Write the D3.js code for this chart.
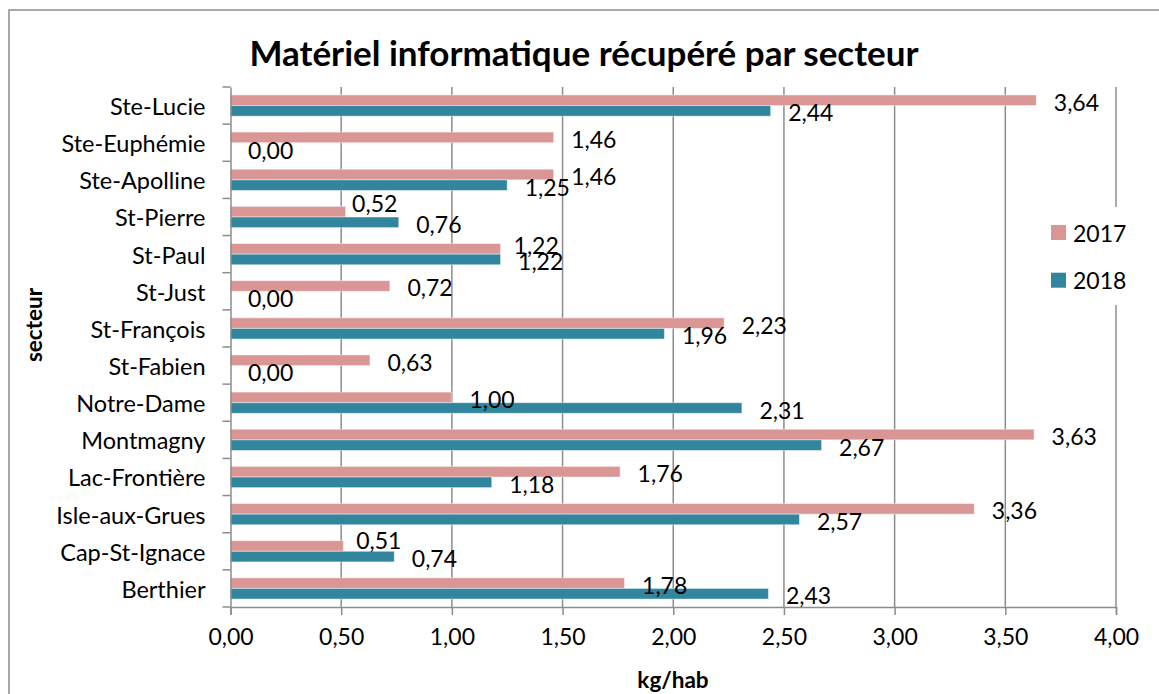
<!DOCTYPE html>
<html><head><meta charset="utf-8">
<script src="https://cdn.jsdelivr.net/npm/d3@7"></script>
<style>
html,body{margin:0;padding:0;background:#fff;}
svg{display:block;font-family:Lato,"Noto Sans",sans-serif;}
</style></head>
<body><svg id="c" width="1159" height="694"></svg>
<script>
const categories = ["Ste-Lucie","Ste-Euphémie","Ste-Apolline","St-Pierre","St-Paul","St-Just","St-François","St-Fabien","Notre-Dame","Montmagny","Lac-Frontière","Isle-aux-Grues","Cap-St-Ignace","Berthier"];
const series = ["2017","2018"];
const values2017 = [3.64,1.46,1.46,0.52,1.22,0.72,2.23,0.63,1.00,3.63,1.76,3.36,0.51,1.78];
const values2018 = [2.44,0.00,1.25,0.76,1.22,0.00,1.96,0.00,2.31,2.67,1.18,2.57,0.74,2.43];
const xTicks = [0,0.5,1,1.5,2,2.5,3,3.5,4];
const title = "Matériel informatique récupéré par secteur";
const xTitle = "kg/hab";
const yTitle = "secteur";

const colors = {"2017":"#D99694","2018":"#31859C"};
const svg = d3.select("#c");
const L = 230.5, R = 1116, T = 87, B = 607;
const fmt = v => v.toFixed(2).replace(".", ",");

// manually placed labels in the original (label offsets, drawing only)
const labelNudge = {"St-Pierre|2017":[-11,-10.3], "St-Paul|2017":[-4.5,-5.8], "Cap-St-Ignace|2017":[-4.7,-7.5]};

svg.append("rect").attr("x",9).attr("y",10).attr("width",1200).attr("height",720)
  .attr("fill","#fff").attr("stroke","#8c8c8c").attr("stroke-width",1.5);

const x = d3.scaleLinear().domain([0,4]).range([L,R]);
const y = d3.scaleBand().domain(categories).range([T,B]).paddingInner(1.5/3.5).paddingOuter(0.75/3.5);
const yb = d3.scaleBand().domain(categories).range([T,B]);
const ys = d3.scaleBand().domain(series).range([0,y.bandwidth()]);

svg.append("g").selectAll("line").data(xTicks.slice(1)).join("line")
  .attr("x1",d=>x(d)).attr("x2",d=>x(d)).attr("y1",T).attr("y2",B)
  .attr("stroke","#8c8c8c").attr("stroke-width",1.5);

const data = [];
categories.forEach((c,i)=>{
  data.push({c, s:"2017", v:values2017[i]});
  data.push({c, s:"2018", v:values2018[i]});
});
svg.append("g").selectAll("rect").data(data).join("rect")
  .attr("x",x(0)).attr("y",d=>y(d.c)+ys(d.s))
  .attr("width",d=>x(d.v)-x(0)).attr("height",ys.bandwidth())
  .attr("fill",d=>colors[d.s]).attr("stroke","#fff").attr("stroke-opacity",0.45).attr("stroke-width",1);

const yAxis = d3.axisLeft(yb).tickSize(0).tickPadding(25);
const gy = svg.append("g").attr("transform",`translate(${L},0)`).call(yAxis);
gy.select(".domain").attr("stroke","#8c8c8c").attr("stroke-width",1.5);
gy.selectAll("text").attr("font-size",23.5).attr("fill","#000").attr("font-family","Lato").attr("dy","0.4em");
const bounds = categories.map(c=>yb(c)).concat([B]);
svg.append("g").selectAll("line").data(bounds).join("line")
  .attr("x1",L-8).attr("x2",L).attr("y1",d=>d).attr("y2",d=>d)
  .attr("stroke","#8c8c8c").attr("stroke-width",1.5);

const xAxis = d3.axisBottom(x).tickValues(xTicks).tickSize(8).tickPadding(14).tickFormat(fmt);
const gx = svg.append("g").attr("transform",`translate(0,${B})`).call(xAxis);
gx.select(".domain").attr("stroke","#8c8c8c").attr("stroke-width",1.5);
gx.selectAll(".tick line").attr("stroke","#8c8c8c").attr("stroke-width",1.5);
gx.selectAll("text").attr("font-size",23).attr("fill","#000").attr("font-family","Lato");

svg.append("g").selectAll("text").data(data).join("text")
  .attr("x",d=>x(d.v)+17.5+((labelNudge[d.c+"|"+d.s]||[0,0])[0]))
  .attr("y",d=>y(d.c)+ys(d.s)+ys.bandwidth()/2+1.5+((labelNudge[d.c+"|"+d.s]||[0,0])[1]))
  .attr("dominant-baseline","central").attr("font-size",23).attr("fill","#000")
  .text(d=>fmt(d.v));

svg.append("text").attr("x",584).attr("y",66).attr("text-anchor","middle")
  .attr("font-size",35).attr("font-weight","bold").attr("fill","#000").text(title);
svg.append("text").attr("x",673).attr("y",688).attr("text-anchor","middle")
  .attr("font-size",22.5).attr("font-weight","bold").attr("fill","#000").text(xTitle);
svg.append("text").attr("transform","translate(42,325) rotate(-90)").attr("text-anchor","middle")
  .attr("font-size",22.5).attr("font-weight","bold").attr("fill","#000").text(yTitle);

const lg = svg.append("g");
lg.append("rect").attr("x",1040).attr("y",207).attr("width",110).attr("height",98).attr("fill","#fff");
series.forEach((s,i)=>{
  const yy = 225 + i*47.7;
  lg.append("rect").attr("x",1051).attr("y",yy).attr("width",15).attr("height",15).attr("fill",colors[s]);
  lg.append("text").attr("x",1073).attr("y",yy+7.5).attr("dominant-baseline","central")
    .attr("font-size",23).attr("fill","#000").text(s);
});
</script></body></html>
